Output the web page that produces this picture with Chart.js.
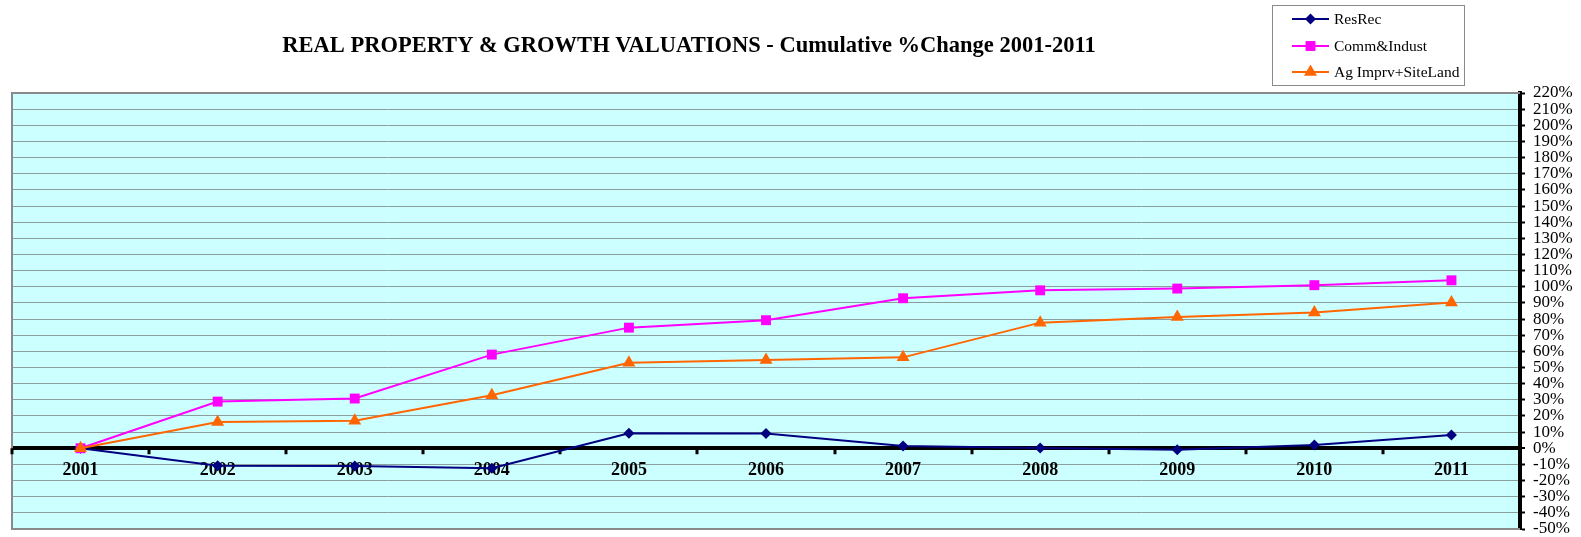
<!DOCTYPE html>
<html>
<head>
<meta charset="utf-8">
<script src="https://cdn.jsdelivr.net/npm/chart.js@4/dist/chart.umd.min.js"></script>
<style>
  html, body { margin: 0; padding: 0; background: #fff; }
  #wrap { width: 1581px; height: 537px; }
</style>
</head>
<body>
<div id="wrap"><canvas id="chart" width="1581" height="537"></canvas></div>
<script>
const years = ['2001', '2002', '2003', '2004', '2005', '2006', '2007', '2008', '2009', '2010', '2011'];
const seriesNames = ['ResRec', 'Comm&Indust', 'Ag Imprv+SiteLand'];
const resRec = [0, -10.8, -11, -12.4, 9.3, 9.2, 1.4, 0.2, -1, 2, 8.2];
const commIndust = [0, 28.9, 30.8, 58, 74.7, 79.3, 92.9, 97.8, 98.9, 101, 104];
const agImprv = [0, 16.3, 17.1, 32.8, 53, 54.7, 56.3, 77.8, 81.3, 84, 90.2];
const yMin = -50;
const yMax = 220;
const yStep = 10;
const chartTitle = 'REAL PROPERTY & GROWTH VALUATIONS - Cumulative %Change 2001-2011';

const serif = '"Liberation Serif", "Times New Roman", serif';

// background, border, x ticks and year labels under the lines; title + legend on top
const decor = {
  id: 'decor',
  beforeDraw(chart) {
    const { ctx, chartArea: a } = chart;
    ctx.save();
    ctx.fillStyle = '#ccffff';
    ctx.fillRect(a.left, a.top, a.right - a.left, a.bottom - a.top);
    ctx.restore();
  },
  beforeDatasetsDraw(chart) {
    const { ctx, chartArea: a, scales } = chart;
    const x = scales.x, y = scales.y;
    const zero = y.getPixelForValue(0);
    ctx.save();
    ctx.strokeStyle = '#8a8a8a';
    ctx.lineWidth = 2;
    ctx.beginPath();
    ctx.moveTo(a.right, a.top);
    ctx.lineTo(a.left, a.top);
    ctx.lineTo(a.left, a.bottom);
    ctx.lineTo(a.right, a.bottom);
    ctx.stroke();

    // tick marks between categories on the zero line
    ctx.strokeStyle = '#000';
    ctx.lineWidth = 3;
    const step = x.getPixelForValue(1) - x.getPixelForValue(0);
    for (let i = 0; i <= years.length; i++) {
      const px = Math.round(x.getPixelForValue(i) - step / 2);
      ctx.beginPath();
      ctx.moveTo(px, zero);
      ctx.lineTo(px, zero + 6);
      ctx.stroke();
    }

    ctx.fillStyle = '#000';
    ctx.font = 'bold 18px ' + serif;
    ctx.textAlign = 'center';
    ctx.textBaseline = 'middle';
    years.forEach((yr, i) => {
      ctx.fillText(yr, x.getPixelForValue(i), zero + 22);
    });
    ctx.restore();
  },
  afterDraw(chart) {
    const { ctx } = chart;
    ctx.save();
    ctx.fillStyle = '#000';
    ctx.font = 'bold 22.5px ' + serif;
    ctx.textAlign = 'center';
    ctx.textBaseline = 'middle';
    ctx.fillText(chartTitle, 689, 46);

    // legend box
    ctx.strokeStyle = '#8a8a8a';
    ctx.lineWidth = 1;
    ctx.strokeRect(1272.5, 5.5, 192, 80);
    const rows = [19, 46, 72];
    chart.data.datasets.forEach((ds, i) => {
      const yy = rows[i];
      ctx.strokeStyle = ds.borderColor;
      ctx.lineWidth = 2;
      ctx.beginPath();
      ctx.moveTo(1292, yy);
      ctx.lineTo(1329, yy);
      ctx.stroke();
      ctx.fillStyle = ds.pointBackgroundColor;
      Chart.helpers.drawPoint(ctx, {
        pointStyle: ds.pointStyle, radius: ds.pointRadius, rotation: 0, borderWidth: 0
      }, 1310.5, yy);
      ctx.fillStyle = '#000';
      ctx.font = '15.5px ' + serif;
      ctx.textAlign = 'left';
      ctx.fillText(ds.label, 1334, yy + 1);
    });
    ctx.restore();
  }
};

function makeSet(label, data, color, style, radius, order) {
  return {
    label, data, order,
    borderColor: color,
    backgroundColor: color,
    pointBackgroundColor: color,
    pointBorderColor: color,
    pointBorderWidth: 0,
    pointStyle: style,
    pointRadius: radius,
    borderWidth: 2,
    fill: false,
    tension: 0
  };
}

new Chart(document.getElementById('chart'), {
  type: 'line',
  data: {
    labels: years,
    datasets: [
      makeSet(seriesNames[0], resRec, '#000080', 'rectRot', 5.5, 2),
      makeSet(seriesNames[1], commIndust, '#ff00ff', 'rect', 7, 1),
      makeSet(seriesNames[2], agImprv, '#ff6600', 'triangle', 7.5, 0)
    ]
  },
  options: {
    responsive: false,
    animation: false,
    layout: { padding: { left: 12, top: 93, bottom: 8, right: 0 } },
    plugins: {
      legend: { display: false },
      tooltip: { enabled: false },
      title: { display: false }
    },
    scales: {
      x: {
        display: false,
        offset: true
      },
      y: {
        position: 'right',
        min: yMin,
        max: yMax,
        afterFit(scale) {
          scale.width = 61;
          scale.paddingTop = 0;
          scale.paddingBottom = 0;
        },
        ticks: {
          stepSize: yStep,
          autoSkip: false,
          padding: 8,
          color: '#000',
          font: { family: serif, size: 17 },
          callback: v => v + '%'
        },
        grid: {
          color: c => c.tick && c.tick.value === 0 ? '#000' : '#8a9e9e',
          lineWidth: c => c.tick && c.tick.value === 0 ? 4 : 1,
          tickLength: 5,
          tickColor: '#000',
          tickWidth: 2
        },
        border: { display: true, color: '#000', width: 4 }
      }
    }
  },
  plugins: [decor]
});
</script>
</body>
</html>
